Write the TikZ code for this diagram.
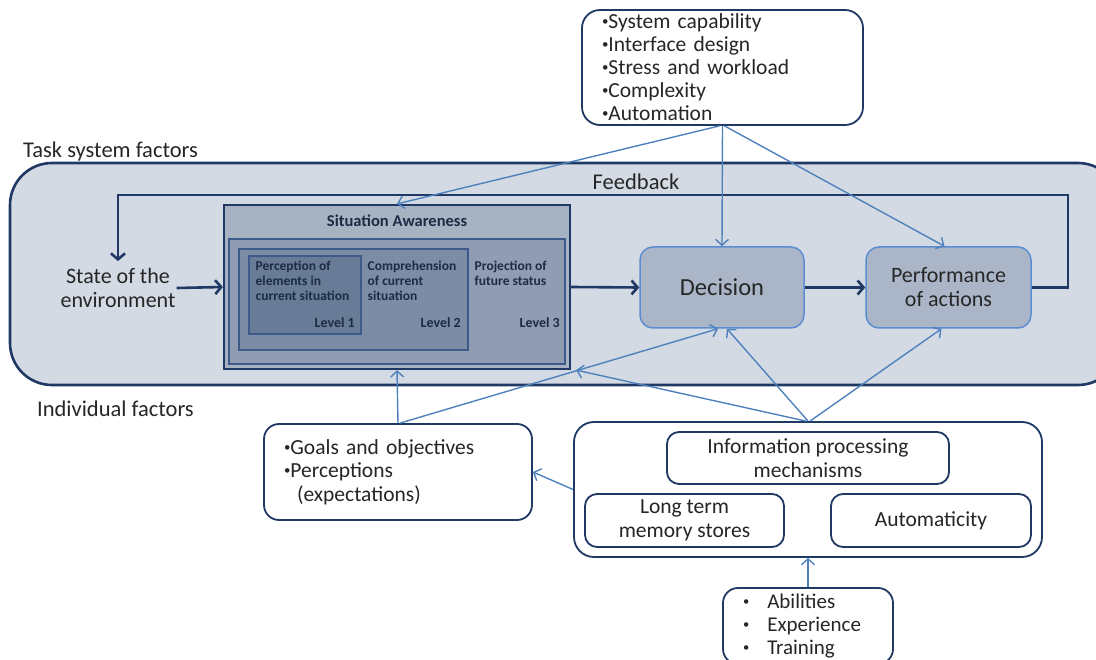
\documentclass[tikz,border=0pt]{standalone}
\usepackage{fontspec}
\setmainfont{Carlito}
\usetikzlibrary{arrows.meta,calc}
\definecolor{navy}{HTML}{1F3864}
\definecolor{lblue}{HTML}{4F81BD}
\definecolor{bigfill}{HTML}{D3DAE3}
\definecolor{safill}{HTML}{A7B2C3}
\definecolor{sathree}{HTML}{8F9CB1}
\definecolor{satwo}{HTML}{7C8CA5}
\definecolor{saone}{HTML}{687B97}
\definecolor{saline}{HTML}{3E5A8A}
\definecolor{dfill}{HTML}{AAB6C7}
\definecolor{dborder}{HTML}{5B8ED0}
\definecolor{txt}{HTML}{262626}
\definecolor{satxt}{HTML}{1E2B45}
\newcommand{\sbul}{\raisebox{0.14em}{\scalebox{0.6}{\textbullet}}}
\begin{document}
\begin{tikzpicture}[x=1pt,y=-1pt,
  whitebox/.style={draw=navy,line width=1.8pt,fill=white,inner sep=0pt,text=txt},
  sabox/.style={draw=saline,line width=1.2pt,inner sep=0pt},
  actbox/.style={draw=dborder,line width=1.5pt,fill=dfill,rounded corners=13pt,inner sep=0pt,
    minimum height=81pt,text=txt,align=center},
  navyarrow/.style={draw=navy,line width=2.6pt,-{Straight Barb[length=6pt,width=14pt]}},
  bluearrow/.style={draw=lblue,line width=1.4pt,-{Straight Barb[length=6pt,width=13pt]}},
  lbl/.style={text=txt,font=\fontsize{22.5}{24}\selectfont,inner sep=0pt},
  satext/.style={text=satxt,font=\bfseries\fontsize{13.5}{14.7}\selectfont,align=left,inner sep=0pt},
  lvl/.style={text=satxt,font=\bfseries\fontsize{14}{15}\selectfont,inner sep=0pt,anchor=east}]
\useasboundingbox (0,0) rectangle (1096,660);
\clip (0,0) rectangle (1096,660);

% top box
\node[whitebox,rounded corners=18pt,minimum width=281pt,minimum height=115pt,
  text width=241pt,align=left,font=\fontsize{21.5}{23}\selectfont] (tsf) at (722.5,67.5)
  {\sbul System capability\\\sbul Interface design\\\sbul Stress and workload\\\sbul Complexity\\\sbul Automation};

\node[lbl,anchor=base west] (tsflabel) at (23,158) {Task system factors};

% big box
\node[draw=navy,line width=2.6pt,fill=bigfill,rounded corners=42pt,minimum width=1110pt,
  minimum height=222pt,inner sep=0pt] (big) at (565,274) {};

\node[lbl,font=\fontsize{22.5}{24}\selectfont] (fbtext) at (636,182) {Feedback};

% environment
\node[lbl,font=\fontsize{22}{24}\selectfont,align=center,inner ysep=7pt,inner xsep=1pt] (env) at (118,288)
  {State of the\\environment};

% situation awareness
\node[draw=navy,line width=2.2pt,fill=safill,minimum width=346pt,minimum height=164pt,inner sep=0pt] (sa) at (397,287) {};
\node[sabox,fill=sathree,minimum width=336pt,minimum height=125pt] (sa3) at (397,301.5) {};
\node[sabox,fill=satwo,minimum width=229pt,minimum height=101pt] (sa2) at (353.5,299.5) {};
\node[sabox,fill=saone,minimum width=112pt,minimum height=78pt] (sa1) at (305,295) {};
\node[text=satxt,font=\bfseries\fontsize{16.5}{18}\selectfont,inner sep=0pt] (satitle) at (397,221) {Situation Awareness};
\node[satext,anchor=north west] (p1) at (255.5,261) {Perception of\\elements in\\current situation};
\node[satext,anchor=north west] (p2) at (367.5,261) {Comprehension\\of current\\situation};
\node[satext,anchor=north west] (p3) at (474.5,261) {Projection of\\future status};
\node[lvl] (l1) at (355,323) {Level 1};
\node[lvl] (l2) at (461,323) {Level 2};
\node[lvl] (l3) at (560,323) {Level 3};

% decision and performance
\node[actbox,minimum width=164pt,font=\fontsize{24.5}{26}\selectfont] (dec) at (722,287.5) {Decision};
\node[actbox,minimum width=165pt,font=\fontsize{22}{24}\selectfont] (perf) at (948.5,287.5) {Performance\\of actions};

% navy flow
\coordinate (fbR) at (1068,195);
\draw[navyarrow] (env.east) -- (sa.west);
\draw[navyarrow] (sa.east) -- (dec.west);
\draw[navyarrow] (dec.east) -- (perf.west);
\draw[navyarrow] (perf.east) -| (fbR) -| (env.north);

\node[lbl,anchor=base west] (iflabel) at (37,417) {Individual factors};

% individual factor boxes
\node[whitebox,rounded corners=15pt,minimum width=268pt,minimum height=96pt,text width=228pt,
  align=left,font=\fontsize{21.5}{23.5}\selectfont] (goals) at (398,472)
  {\sbul Goals and objectives\\\sbul Perceptions\\\hspace*{13pt}(expectations)};

\node[whitebox,rounded corners=20pt,minimum width=468pt,minimum height=135pt] (cl) at (808,489.5) {};
\node[whitebox,rounded corners=12pt,minimum width=282pt,minimum height=52pt,align=center,
  font=\fontsize{21.5}{24}\selectfont] (info) at (808,458) {Information processing\\mechanisms};
\node[whitebox,rounded corners=12pt,minimum width=199pt,minimum height=53pt,align=center,
  font=\fontsize{21.5}{24}\selectfont] (ltm) at (684.5,520.5) {Long term\\memory stores};
\node[whitebox,rounded corners=12pt,minimum width=200pt,minimum height=53pt,
  font=\fontsize{21.5}{24}\selectfont] (auto) at (931,520.5) {Automaticity};

\node[whitebox,rounded corners=15pt,minimum width=170pt,minimum height=76pt,text width=130pt,
  align=left,font=\fontsize{21}{23}\selectfont] (abil) at (808,626)
  {\sbul\hspace{18pt}Abilities\\\sbul\hspace{18pt}Experience\\\sbul\hspace{18pt}Training};

% blue influence arrows
\draw[bluearrow] ([xshift=-3pt]tsf.south) -- (sa.north);
\draw[bluearrow] (tsf.south) -- (dec.north);
\draw[bluearrow] ([xshift=2pt]tsf.south) -- ([xshift=-4pt]perf.north);
\draw[bluearrow] (goals.north) -- (sa.south);
\draw[bluearrow] ([xshift=2pt]goals.north) -- ([xshift=-4pt]dec.south);
\draw[bluearrow] ([xshift=-2pt]cl.north) -- ([xshift=5pt]sa.south east);
\draw[bluearrow] (cl.north) -- ([xshift=5pt]dec.south);
\draw[bluearrow] ([xshift=2pt]cl.north) -- ([xshift=-7pt]perf.south);
\draw[bluearrow] (cl.west) -- (goals.east);
\draw[bluearrow] (abil.north) -- (cl.south);
\end{tikzpicture}
\end{document}
